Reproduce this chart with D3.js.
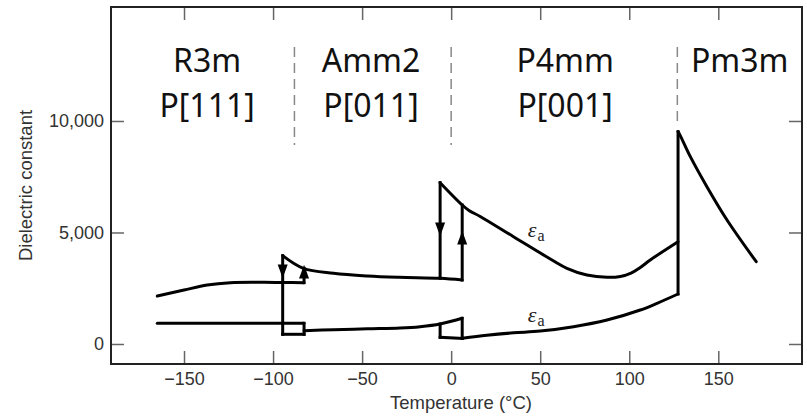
<!DOCTYPE html>
<html>
<head>
<meta charset="utf-8">
<script src="https://cdn.jsdelivr.net/npm/d3@7"></script>
<style>
  body { margin: 0; background: #fff; }
  svg { display: block; }
</style>
</head>
<body>
<script>
const width = 807
const height = 418
const margin = {top: 7, right: 5, bottom: 54, left: 111}

const xTicks = [-150, -100, -50, 0, 50, 100, 150]
const yTicks = [0, 5000, 10000]

const phaseNames = ['R3m', 'Amm2', 'P4mm', 'Pm3m']
const phaseDirs = ['P[111]', 'P[011]', 'P[001]', '']
const phaseCenters = [-137, -45, 64, 162]
const phaseBounds = [-88, 0, 127]

// smooth pieces, [temperature, dielectric constant]
const upperR3m = [[-165, 2150], [-150, 2420], [-137, 2645], [-124, 2750], [-105, 2765], [-94.6, 2755], [-82.6, 2750]]
const upperAmm2 = [[-94.6, 3960], [-83, 3390], [-66, 3170], [-47, 3050], [-29, 2990], [-6.2, 2946], [6.2, 2870]]
const upperP4mm = [[-6.2, 7233], [6.2, 6233], [10, 5990], [16.3, 5720], [35, 4811], [53.8, 3900], [65, 3394],
  [76.2, 3094], [87.5, 2991], [95, 3030], [101, 3180], [106, 3420], [112, 3780], [127.4, 4587]]
const upperPm3m = [[127.4, 9520], [128.3, 9400], [134.3, 8400], [143.6, 7054], [154.9, 5560], [171.3, 3690]]
const lowerR3m = [[-165, 928], [-82.6, 928]]
const lowerAmm2 = [[-82.6, 596], [-66, 640], [-47, 680], [-28.7, 715], [-17.4, 776], [-6.2, 897], [6.2, 1152]]
const lowerP4mm = [[6.2, 255], [20, 390], [35, 500], [50, 580], [68.7, 776], [87.5, 1076], [106.2, 1525],
  [115.6, 1825], [127.4, 2242]]

// straight jumps and box edges
const segments = [
  [[-94.6, 3960], [-94.6, 435]],
  [[-82.6, 2750], [-82.6, 3390]],
  [[-82.6, 928], [-82.6, 435]],
  [[-94.6, 435], [-82.6, 435]],
  [[-6.2, 7233], [-6.2, 2946]],
  [[6.2, 2870], [6.2, 6233]],
  [[-6.2, 897], [-6.2, 300]],
  [[6.2, 1152], [6.2, 255]],
  [[-6.2, 300], [6.2, 255]],
  [[127.4, 2242], [127.4, 9520]]
]

// arrow heads: [temperature, value, direction]
const arrows = [[-94.6, 3363, 'down'], [-82.6, 3139, 'up'], [-6.2, 5246, 'down'], [6.2, 4663, 'up']]

// epsilon labels: [temperature, value]
const epsLabels = [[43, 4800], [43, 990]]

const svg = d3.select('body')
  .append('svg')
  .attr('width', width)
  .attr('height', height)

const x = d3.scaleLinear()
  .domain([-191, 197])
  .range([margin.left, width - margin.right])
const y = d3.scaleLinear()
  .domain([-897, 15111])
  .range([height - margin.bottom, margin.top])

const tickColor = '#666'
const labelColor = '#333'
const axisFont = '"Liberation Sans", Arial, sans-serif'

function styleAxis (g) {
  g.select('.domain').remove()
  g.selectAll('.tick line').attr('stroke', tickColor).attr('stroke-width', 1.5)
  g.selectAll('.tick text')
    .attr('fill', labelColor)
    .attr('font-family', axisFont)
    .attr('font-size', '18px')
}

svg.append('g')
  .attr('transform', `translate(0, ${height - margin.bottom})`)
  .call(d3.axisBottom(x).tickValues(xTicks).tickSizeInner(-13).tickSizeOuter(0).tickPadding(8))
  .call(styleAxis)
svg.append('g')
  .attr('transform', `translate(0, ${margin.top})`)
  .call(d3.axisTop(x).tickValues(xTicks).tickSizeInner(-13).tickSizeOuter(0).tickFormat(''))
  .call(styleAxis)
svg.append('g')
  .attr('transform', `translate(${margin.left}, 0)`)
  .call(d3.axisLeft(y).tickValues(yTicks).tickSizeInner(-13).tickSizeOuter(0).tickPadding(7).tickFormat(d3.format(',')))
  .call(styleAxis)
svg.append('g')
  .attr('transform', `translate(${width - margin.right}, 0)`)
  .call(d3.axisRight(y).tickValues(yTicks).tickSizeInner(-13).tickSizeOuter(0).tickFormat(''))
  .call(styleAxis)

// frame
svg.append('rect')
  .attr('x', margin.left)
  .attr('y', margin.top)
  .attr('width', width - margin.left - margin.right)
  .attr('height', height - margin.top - margin.bottom)
  .attr('fill', 'none')
  .attr('stroke', '#222')
  .attr('stroke-width', 2)

// axis titles
svg.append('text')
  .attr('x', 461)
  .attr('y', 409)
  .attr('text-anchor', 'middle')
  .attr('font-family', axisFont)
  .attr('font-size', '18.5px')
  .attr('fill', labelColor)
  .text('Temperature (°C)')
svg.append('text')
  .attr('transform', `translate(32, ${(margin.top + height - margin.bottom) / 2}) rotate(-90)`)
  .attr('text-anchor', 'middle')
  .attr('font-family', axisFont)
  .attr('font-size', '18.5px')
  .attr('fill', labelColor)
  .text('Dielectric constant')

// phase boundaries
svg.selectAll('line.bound')
  .data(phaseBounds)
  .enter()
  .append('line')
  .attr('class', 'bound')
  .attr('x1', d => x(d))
  .attr('x2', d => x(d))
  .attr('y1', 47)
  .attr('y2', (d, i) => i === 2 ? 127 : 145)
  .attr('stroke', '#888')
  .attr('stroke-width', 1.5)
  .attr('stroke-dasharray', '10,6')

// phase labels
const phaseFont = '"Noto Sans", "Open Sans", sans-serif'
svg.selectAll('text.phase')
  .data(phaseNames)
  .enter()
  .append('text')
  .attr('class', 'phase')
  .attr('x', (d, i) => x(phaseCenters[i]))
  .attr('y', 72)
  .attr('text-anchor', 'middle')
  .attr('font-family', phaseFont)
  .attr('font-size', '32px')
  .attr('fill', '#111')
  .text(d => d)
svg.selectAll('text.dir')
  .data(phaseDirs)
  .enter()
  .append('text')
  .attr('class', 'dir')
  .attr('x', (d, i) => x(phaseCenters[i]))
  .attr('y', 117)
  .attr('text-anchor', 'middle')
  .attr('font-family', phaseFont)
  .attr('font-size', '32px')
  .attr('fill', '#111')
  .text(d => d)

// curves
const smooth = d3.line()
  .x(d => x(d[0]))
  .y(d => y(d[1]))
  .curve(d3.curveCatmullRom.alpha(0.5))
const curves = [upperR3m, upperAmm2, upperP4mm, upperPm3m, lowerR3m, lowerAmm2, lowerP4mm]
svg.selectAll('path.curve')
  .data(curves)
  .enter()
  .append('path')
  .attr('class', 'curve')
  .attr('d', smooth)
  .attr('fill', 'none')
  .attr('stroke', '#000')
  .attr('stroke-width', 3)
  .attr('stroke-linecap', 'round')
  .attr('stroke-linejoin', 'round')

svg.selectAll('line.seg')
  .data(segments)
  .enter()
  .append('line')
  .attr('class', 'seg')
  .attr('x1', d => x(d[0][0]))
  .attr('y1', d => y(d[0][1]))
  .attr('x2', d => x(d[1][0]))
  .attr('y2', d => y(d[1][1]))
  .attr('stroke', '#000')
  .attr('stroke-width', 3)
  .attr('stroke-linecap', 'square')

// arrow heads
svg.selectAll('path.arrow')
  .data(arrows)
  .enter()
  .append('path')
  .attr('class', 'arrow')
  .attr('d', d3.symbol().type(d3.symbolTriangle).size(60))
  .attr('transform', d => `translate(${x(d[0])}, ${y(d[1])}) rotate(${d[2] === 'down' ? 180 : 0}) scale(0.85, 1.35)`)
  .attr('fill', '#000')

// epsilon labels
const eps = svg.selectAll('text.eps')
  .data(epsLabels)
  .enter()
  .append('text')
  .attr('class', 'eps')
  .attr('x', d => x(d[0]))
  .attr('y', d => y(d[1]))
  .attr('font-family', '"Liberation Serif", "DejaVu Serif", serif')
  .attr('fill', '#222')
eps.append('tspan')
  .attr('font-style', 'italic')
  .attr('font-size', '22px')
  .text('ε')
eps.append('tspan')
  .attr('font-size', '16px')
  .attr('dx', 1)
  .attr('dy', 4)
  .text('a')
</script>
</body>
</html>
